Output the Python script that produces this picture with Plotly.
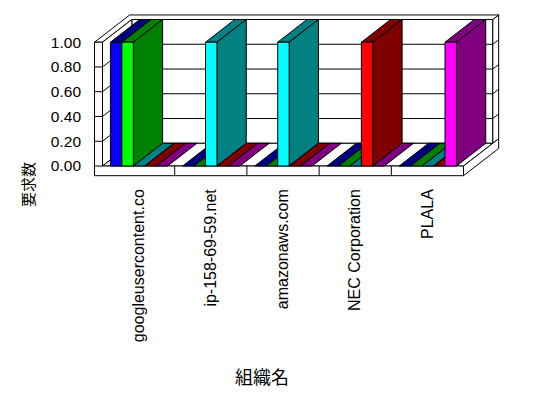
import plotly.graph_objects as go

# ---------------- data ----------------
categories = ["googleusercontent.co", "ip-158-69-59.net", "amazonaws.com",
              "NEC Corporation", "PLALA"]
series_blue = [1, 0, 0, 0, 0]
series_lime = [1, 0, 0, 0, 0]
series_cyan = [0, 1, 1, 0, 0]
series_red = [0, 0, 0, 1, 0]
series_magenta = [0, 0, 0, 0, 1]
series_values = [series_blue, series_lime, series_cyan, series_red, series_magenta]
front_colors = ["#0000FF", "#00FF00", "#00FFFF", "#FF0000", "#FF00FF"]
dark_colors = ["#000080", "#008000", "#008080", "#800000", "#800080"]
y_tick_values = [0.0, 0.2, 0.4, 0.6, 0.8, 1.0]
y_tick_labels = ["0.00", "0.20", "0.40", "0.60", "0.80", "1.00"]
x_title = "組織名"
y_title = "要求数"

# ---------------- geometry (styles) ----------------
PAGE = 8         # default body margin of the html page
FW, FH = 548 - PAGE, 398 - PAGE
PXX = 72.2      # px per category slot
PXY = 123.8     # px per value unit
DX = 29.3 / PXX  # depth offset (x units) for full depth
DY = 22.7 / PXY  # depth offset (y units) for full depth
T = 0.2          # back wall thickness (fraction of depth)
LW = 8.0 / PXX   # left wall thickness
FT = 9.7 / PXY   # floor thickness
W = 11.44 / PXX  # bar width
OFF = 0.11       # group offset in slot
N = len(categories)
VMAX = 1.0

# plot area in window px
L, R, TOP, BOT = 94, 500, 12, 177
X0PX, Y0PX = 102.5, 166.0
xr = [(L - X0PX) / PXX, (R - X0PX) / PXX]
yr = [(Y0PX - BOT) / PXY, (Y0PX - TOP) / PXY]

fig = go.Figure()


def P(x, v, d):
    return (x + d * DX, v + d * DY)


def poly(pts, fill):
    xy = [P(*p) for p in pts]
    xs = [a for a, b in xy] + [xy[0][0]]
    ys = [b for a, b in xy] + [xy[0][1]]
    fig.add_trace(go.Scatter(x=xs, y=ys, mode="lines", fill="toself",
                             fillcolor=fill, line=dict(color="black", width=1),
                             hoverinfo="skip", showlegend=False))


def line(pts):
    xy = [P(*p) for p in pts]
    fig.add_trace(go.Scatter(x=[a for a, b in xy], y=[b for a, b in xy],
                             mode="lines", line=dict(color="black", width=1),
                             hoverinfo="skip", showlegend=False))


grid_levels = [v for v in y_tick_values if 0 < v < VMAX]

# back wall front face
poly([(0, 0, 1), (N, 0, 1), (N, VMAX, 1), (0, VMAX, 1)], "white")
# back wall right end face
poly([(N, 0, 1), (N, 0, 1 + T), (N, VMAX, 1 + T), (N, VMAX, 1)], "white")
for v in grid_levels:
    line([(0, v, 1), (N, v, 1), (N, v, 1 + T)])
# top L face
poly([(-LW, VMAX, 0), (0, VMAX, 0), (0, VMAX, 1), (N, VMAX, 1),
      (N, VMAX, 1 + T), (-LW, VMAX, 1 + T)], "white")
# left wall inner face
poly([(0, 0, 0), (0, 0, 1), (0, VMAX, 1), (0, VMAX, 0)], "white")
for v in grid_levels:
    line([(0, v, 0), (0, v, 1)])
# floor top
poly([(0, 0, 0), (N, 0, 0), (N, 0, 1), (0, 0, 1)], "white")
# floor right end face
poly([(N, -FT, 0), (N, -FT, 1 + T), (N, 0, 1 + T), (N, 0, 0)], "white")
# front L face
poly([(-LW, VMAX, 0), (0, VMAX, 0), (0, 0, 0), (N, 0, 0), (N, -FT, 0),
      (-LW, -FT, 0)], "white")
for v in [v for v in y_tick_values if v < VMAX]:
    line([(-LW, v, 0), (0, v, 0)])
for i in range(1, N):
    line([(i, 0, 0), (i, -FT, 0)])

# bars, left to right
for i in range(N):
    for j, vals in enumerate(series_values):
        v = vals[i]
        x0 = i + OFF + j * W
        x1 = x0 + W
        poly([(x0, v, 0), (x1, v, 0), (x1, v, 1), (x0, v, 1)], dark_colors[j])
        if v > 0:
            poly([(x1, 0, 0), (x1, 0, 1), (x1, v, 1), (x1, v, 0)], dark_colors[j])
            poly([(x0, 0, 0), (x1, 0, 0), (x1, v, 0), (x0, v, 0)], front_colors[j])

xfont = dict(family="Liberation Sans, Arial, sans-serif", size=16, color="black")
yfont = dict(family="Liberation Sans, Arial, sans-serif", size=15.5, color="black")

fig.update_layout(
    template="none",
    width=FW, height=FH,
    margin=dict(l=L - PAGE, r=548 - R, t=TOP - PAGE, b=398 - BOT, pad=0),
    paper_bgcolor="white", plot_bgcolor="white",
    showlegend=False,
    xaxis=dict(range=xr, showgrid=False, zeroline=False, showline=False,
               ticks="", tickvals=[i + 0.5 for i in range(N)], ticktext=categories,
               tickangle=-90, tickfont=xfont, automargin=False,
               ticklabelstandoff=8, fixedrange=True),
    yaxis=dict(range=yr, showgrid=False, zeroline=False, showline=False,
               ticks="", tickvals=y_tick_values, ticktext=y_tick_labels,
               tickfont=yfont, automargin=False, ticklabelstandoff=12,
               fixedrange=True),
    annotations=[
        dict(text=x_title, xref="paper", yref="paper",
             x=(262 - L) / (R - L), y=(BOT - 376) / (BOT - TOP),
             showarrow=False, xanchor="center", yanchor="middle",
             font=dict(family="Noto Sans CJK JP", size=18, color="black")),
        dict(text=y_title, xref="paper", yref="paper",
             x=(27 - L) / (R - L), y=(BOT - 185) / (BOT - TOP),
             showarrow=False, xanchor="center", yanchor="middle", textangle=-90,
             font=dict(family="Noto Sans CJK JP", size=15, color="black")),
    ],
)

fig.write_html("out.html")
